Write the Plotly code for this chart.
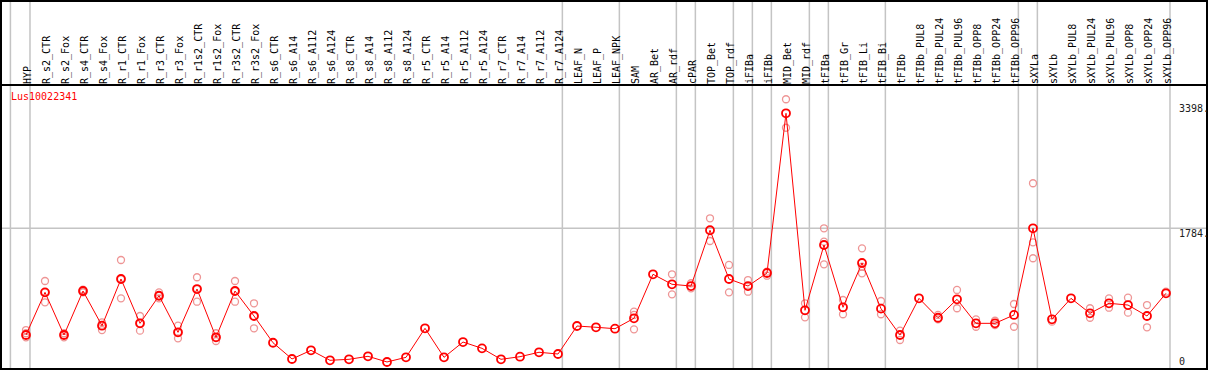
import plotly.graph_objects as go

categories = ["HYP", "R_s2_CTR", "R_s2_Fox", "R_s4_CTR", "R_s4_Fox", "R_r1_CTR", "R_r1_Fox",
              "R_r3_CTR", "R_r3_Fox", "R_r1s2_CTR", "R_r1s2_Fox", "R_r3s2_CTR", "R_r3s2_Fox",
              "R_s6_CTR", "R_s6_A14", "R_s6_A112", "R_s6_A124", "R_s8_CTR", "R_s8_A14",
              "R_s8_A112", "R_s8_A124", "R_r5_CTR", "R_r5_A14", "R_r5_A112", "R_r5_A124",
              "R_r7_CTR", "R_r7_A14", "R_r7_A112", "R_r7_A124", "LEAF_N", "LEAF_P", "LEAF_NPK",
              "SAM", "AR_Bet", "AR_rdf", "cPAR", "TOP_Bet", "TOP_rdf", "iFIBa", "iFIBb",
              "MID_Bet", "MID_rdf", "tFIBa", "tFIB_Gr", "tFIB_Li", "tFIB_Bi", "tFIBb",
              "tFIBb_PUL8", "tFIBb_PUL24", "tFIBb_PUL96", "tFIBb_OPP8", "tFIBb_OPP24",
              "tFIBb_OPP96", "sXYLa", "sXYLb", "sXYLb_PUL8", "sXYLb_PUL24", "sXYLb_PUL96",
              "sXYLb_OPP8", "sXYLb_OPP24", "sXYLb_OPP96"]

mean_values = [431, 972, 431, 989, 549, 1141, 579, 929, 465, 1014, 402, 989, 672,
               333, 127, 237, 110, 123, 161, 89, 148, 516, 148, 342, 262,
               123, 156, 212, 190, 545, 529, 511,
               643, 1201, 1074, 1052, 1759, 1141, 1052, 1217,
               3242, 744, 1572, 782, 1344, 765, 431,
               896, 650, 884, 579, 579, 685,
               1784, 630, 896, 706, 833, 811, 672, 960]

replicates = [
    [494, 453, 402], [1116, 846, 972], [453, 402, 431], [1005, 980, 972], [592, 494, 549],
    [1382, 896, 1141], [672, 486, 579], [972, 896, 929], [549, 389, 465], [1163, 853, 1014],
    [453, 355, 402], [1116, 853, 989], [833, 516, 672],
    [], [], [], [], [], [], [], [], [], [], [], [], [], [], [], [], [], [], [],
    [727, 685, 503], [], [1201, 947], [1087, 1023], [1911, 1623], [1319, 972],
    [1128, 980], [1234, 1183], [3420, 3059], [833, 655], [1784, 1614, 1327],
    [875, 694], [1530, 1213, 1297], [862, 694], [486, 368],
    [], [685, 630], [1002, 770], [630, 536], [612, 558], [824, 536],
    [2355, 1606, 1404], [600], [], [770, 650], [896, 777], [904, 714], [811, 529], [980],
]

gene_name = "Lus10022341"
axis_labels = ["3398.", "1784.", "0"]
axis_label_values = [3398, 1784, 0]
separator_positions = [-0.82, 0.21, 28.23, 31.23, 34.23, 35.23, 37.23, 38.23, 39.23,
                       41.23, 42.23, 45.23, 52.23, 53.23, 60.21]

x_idx = list(range(len(categories)))
rep_x, rep_y = [], []
for i, reps in enumerate(replicates):
    for v in reps:
        rep_x.append(i)
        rep_y.append(v)

fig = go.Figure()
fig.add_trace(go.Scatter(
    x=rep_x, y=rep_y, mode="markers",
    marker=dict(symbol="circle-open", size=7, color="rgba(235,130,130,0.85)",
                line=dict(width=1.3, color="rgba(235,130,130,0.85)")),
    hoverinfo="skip", showlegend=False))
fig.add_trace(go.Scatter(
    x=x_idx, y=mean_values, mode="lines+markers",
    line=dict(color="#ff0000", width=1),
    marker=dict(symbol="circle-open", size=8, color="#ff0000",
                line=dict(width=1.8, color="#ff0000")),
    showlegend=False))

W, H = 1209, 370
ml, mr, mt, mb = 1, 2, 85, 1
plot_h = H - mt - mb
top_paper = 1 + (mt - 1) / plot_h

shapes = []
for sx in separator_positions:
    shapes.append(dict(type="line", xref="x", yref="paper", x0=sx, x1=sx, y0=0, y1=top_paper,
                       line=dict(color="#c4c4c4", width=1.5), layer="below"))
shapes.append(dict(type="line", xref="paper", yref="y", x0=0, x1=1, y0=1784, y1=1784,
                   line=dict(color="#c4c4c4", width=1.5), layer="below"))
shapes.append(dict(type="rect", xref="paper", yref="paper", x0=0, x1=1, y0=0, y1=top_paper,
                   line=dict(color="black", width=2), fillcolor="rgba(0,0,0,0)"))
shapes.append(dict(type="line", xref="paper", yref="paper", x0=0, x1=1, y0=1, y1=1,
                   line=dict(color="black", width=2)))

annotations = [dict(text=gene_name, xref="paper", yref="paper", x=(9 - ml) / (W - ml - mr), y=1,
                    xanchor="left", yanchor="top", yshift=-4, showarrow=False,
                    font=dict(family="DejaVu Sans Mono", size=10, color="#ff0000"))]
lab_x = (1177 - ml) / (W - ml - mr)
for txt, val in zip(axis_labels, axis_label_values):
    annotations.append(dict(text=txt, xref="paper", yref="y", x=lab_x, y=val,
                            xanchor="left", yanchor="bottom" if val == 0 else "top",
                            yshift=2 if val == 1784 else 0,
                            showarrow=False,
                            font=dict(family="DejaVu Sans Mono", size=10, color="#202020")))

fig.update_layout(
    width=W, height=H, margin=dict(l=ml, r=mr, t=mt, b=mb, autoexpand=False),
    paper_bgcolor="white", plot_bgcolor="white",
    xaxis=dict(range=[-(26 - ml) / 19, (W - mr - 26) / 19], side="top",
               tickmode="array", tickvals=x_idx, ticktext=categories, tickangle=-90,
               tickfont=dict(family="DejaVu Sans Mono", size=10, color="black"),
               ticklabelshift=2,
               showgrid=False, zeroline=False, showline=False, ticks=""),
    yaxis=dict(range=[0, plot_h / 0.07887], showticklabels=False, showgrid=False,
               zeroline=False, showline=False, ticks=""),
    shapes=shapes, annotations=annotations,
)

fig.write_html("out.html", config={"displayModeBar": False},
               post_script="document.body.style.margin='0';document.body.style.overflow='hidden';")
